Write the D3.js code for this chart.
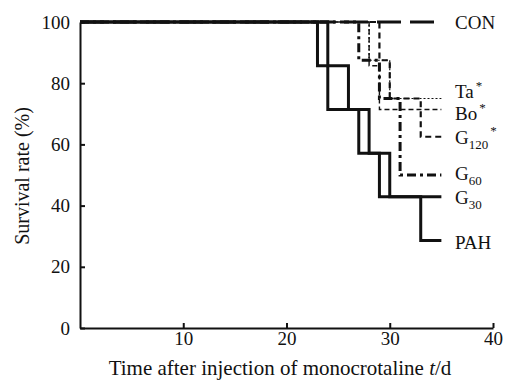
<!DOCTYPE html>
<html><head><meta charset="utf-8">
<script src="https://cdn.jsdelivr.net/npm/d3@7"></script>
<style>
html,body{margin:0;padding:0;background:#fff;}
svg text, svg tspan{font-family:"Liberation Serif","Times New Roman",serif;fill:#111;}
</style></head>
<body><svg id="c" width="506" height="380"></svg>
<script>
// ---- data ----
const xTicks = [10, 20, 30, 40];
const yTicks = [0, 20, 40, 60, 80, 100];
const conT = [0, 35],                      conV = [100, 100];
const taT  = [0, 28, 30, 35],              taV  = [100, 87.5, 75, 75];
const boT  = [0, 28, 29, 35],              boV  = [100, 85.7, 71.4, 71.4];
const g120T = [0, 29, 30, 33, 35],         g120V = [100, 87.5, 75, 62.5, 62.5];
const g60T = [0, 27, 29, 31, 35],          g60V = [100, 87.5, 75, 50, 50];
const g30T = [0, 24, 26, 28, 30, 35],      g30V = [100, 85.7, 71.4, 57.1, 42.9, 42.9];
const pahT = [0, 23, 24, 27, 29, 33, 35],  pahV = [100, 85.7, 71.4, 57.1, 42.9, 28.6, 28.6];

const series = [
  {name:"CON", t:conT, v:conV, w:3, dash:"24,9", sub:null, star:false, ly:22},
  {name:"Ta",  t:taT,  v:taV,  w:1.2, dash:"2,2", sub:null, star:true, ly:91},
  {name:"Bo",  t:boT,  v:boV,  w:1.4, dash:"5,3", sub:null, star:true, ly:113},
  {name:"G",   t:g120T, v:g120V, w:2.2, dash:"6,4", sub:"120", star:true, ly:137},
  {name:"G",   t:g60T, v:g60V, w:3, dash:"9,4,3,4", sub:"60", star:false, ly:173},
  {name:"G",   t:g30T, v:g30V, w:3, dash:null, sub:"30", star:false, ly:197},
  {name:"PAH", t:pahT, v:pahV, w:3, dash:null, sub:null, star:false, ly:242}
];

const svg = d3.select("#c");
const x = d3.scaleLinear().domain([0, 40]).range([80, 493]);
const y = d3.scaleLinear().domain([0, 100]).range([328, 22]);

// axes
const xAxis = d3.axisBottom(x).tickValues(xTicks).tickSizeInner(-5).tickSizeOuter(0).tickPadding(3);
const gx = svg.append("g").attr("transform", `translate(0,${y(0)})`).call(xAxis);
const yAxis = d3.axisLeft(y).tickValues(yTicks).tickSizeInner(-5).tickSizeOuter(0).tickPadding(8);
const gy = svg.append("g").attr("transform", `translate(${x(0)},0)`).call(yAxis);
[gx, gy].forEach(g => {
  g.select(".domain").attr("stroke", "#111").attr("stroke-width", 2);
  g.selectAll(".tick line").attr("stroke", "#111").attr("stroke-width", 2);
  g.selectAll(".tick text").style("font-size", "19px").attr("fill", "#111")
    .style("font-family", '"Liberation Serif","Times New Roman",serif');
});
gy.selectAll(".tick text").attr("x", -10).attr("dy", "0.32em");
gx.selectAll(".tick text").attr("y", 3).attr("dy", "0.71em");

// series
const line = d3.line().x(d => x(d[0])).y(d => y(d[1])).curve(d3.curveStepAfter);
series.slice().reverse().forEach(s => {
  const pts = s.t.map((t, i) => [t, s.v[i]]);
  svg.append("path").attr("d", line(pts)).attr("fill", "none")
    .attr("stroke", "#111").attr("stroke-width", s.w)
    .attr("stroke-dasharray", s.dash).attr("stroke-linejoin", "miter").attr("stroke-linecap", "butt");
});

// labels
series.forEach(s => {
  const t = svg.append("text").attr("x", 455).attr("y", s.ly).attr("dy", "0.35em")
    .style("font-size", "19px").attr("fill", "#111");
  t.append("tspan").attr("fill", "#111").text(s.name);
  if (s.sub) t.append("tspan").attr("dy", 5).attr("fill", "#111").style("font-size", "13px").text(s.sub);
  if (s.star) t.append("tspan").attr("dy", s.sub ? -14 : -8).attr("dx", 2).attr("fill", "#111")
    .style("font-size", "13px").text("*");
});

// axis titles
const xt = svg.append("text").attr("x", 280).attr("y", 375).attr("text-anchor", "middle")
  .style("font-size", "21px").attr("fill", "#111");
xt.append("tspan").text("Time after injection of monocrotaline ");
xt.append("tspan").style("font-style", "italic").text("t");
xt.append("tspan").text("/d");
svg.append("text").attr("transform", "translate(29,176) rotate(-90)").attr("text-anchor", "middle")
  .style("font-size", "20px").attr("fill", "#111").text("Survival rate (%)");
</script></body></html>
